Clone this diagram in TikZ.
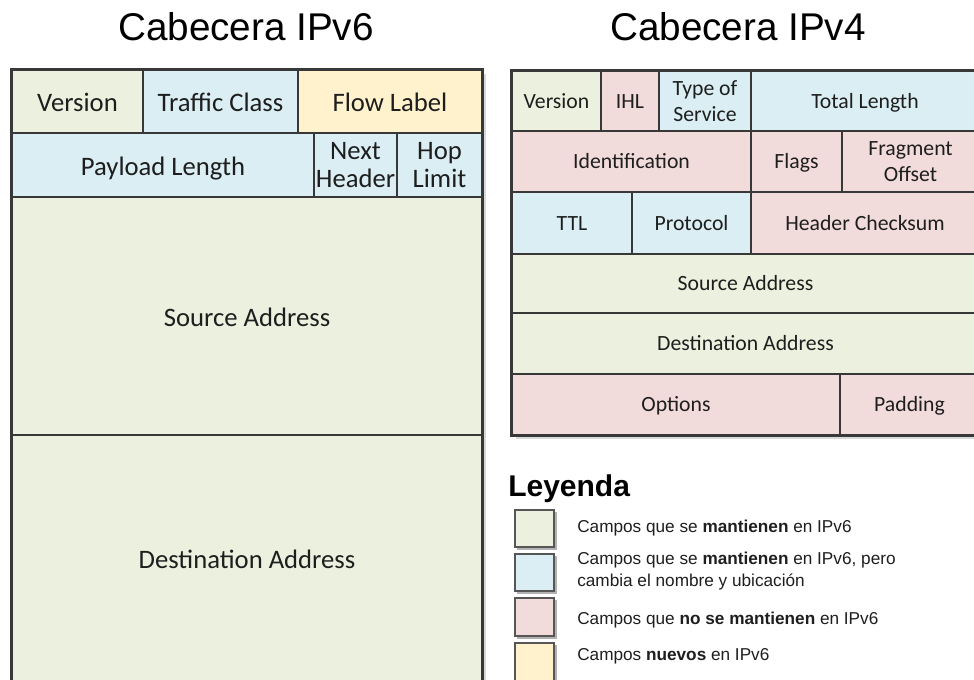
\documentclass[tikz,border=0pt]{standalone}
\usepackage{fontspec}
\setmainfont{Liberation Sans}
\newfontfamily\calib{Carlito}

\definecolor{keepg}{HTML}{EBF1DE}
\definecolor{renb}{HTML}{DAEEF3}
\definecolor{dropr}{HTML}{F2DCDB}
\definecolor{newy}{HTML}{FFF2CC}
\definecolor{linec}{HTML}{383838}
\definecolor{txtc}{HTML}{1E1E1E}

% one header field: name, x1, y1, x2, y2, fill, font style, label
\newcommand\fld[8]{%
  \node[fld, fill=#6, #7,
        minimum width={(#4-#2)*0.75pt},
        minimum height={(#5-#3)*0.75pt}]
        (#1) at ({(#2+#4)/2},{(#3+#5)/2}) {#8};}

\begin{document}
\begin{tikzpicture}[x=0.75pt, y=-0.75pt,
  fld/.style={draw=linec, line width=1.1pt, inner sep=0pt, align=center, text=txtc},
  vsix/.style={font=\calib\fontsize{20}{21}\selectfont},
  vfour/.style={font=\calib\fontsize{16.3}{20}\selectfont},
  % fixed line box for single-line labels, so all baselines sit alike
  one6/.style={vsix, text height=19pt, text depth=4pt},
  one4/.style={vfour, text height=13.5pt, text depth=3pt},
  title/.style={font=\fontsize{29}{32}\selectfont, anchor=base, inner sep=0pt},
  keybox/.style={draw=linec!85, line width=1.5pt, inner sep=0pt, minimum width=39*0.75pt},
  keytext/.style={font=\fontsize{12.9}{16.5}\selectfont, text=txtc, anchor=west, inner sep=0pt, align=left},
  shade/.style={fill=black!35}
]
\useasboundingbox (0,0) rectangle (974,679);
\clip (0,0) rectangle (974,679);

% titles
\node[title] (t6) at (246,40) {Cabecera IPv6};
\node[title] (t4) at (738,40) {Cabecera IPv4};

% soft shadows under both tables
\fill[black!15] (15.5,73.5) rectangle (485.5,690);
\fill[shade] (13.5,71.5) rectangle (484,690);
\fill[black!15] (515.5,74.5) rectangle (990,438.5);
\fill[shade] (513.5,72.5) rectangle (990,437);

% IPv6 header
\fld{v6ver}{12}{70}{143}{133}{keepg}{one6}{Version}
\fld{v6tc}{143}{70}{298}{133}{renb}{one6}{Traffic Class}
\fld{v6fl}{298}{70}{482}{133}{newy}{one6}{Flow Label}
\fld{v6pl}{12}{133}{314}{197}{renb}{one6}{Payload Length}
\fld{v6nh}{314}{133}{397}{197}{renb}{vsix}{Next\\Header}
\fld{v6hl}{397}{133}{482}{197}{renb}{vsix}{Hop\\Limit}
\fld{v6src}{12}{197}{482}{435}{keepg}{one6}{Source Address}
\fld{v6dst}{12}{435}{482}{681}{keepg}{one6}{Destination Address}
\draw[draw=linec, line width=1.6pt] (v6ver.north west) rectangle (v6dst.south east);

% IPv4 header
\fld{v4ver}{512}{71}{601}{131}{keepg}{one4}{Version}
\fld{v4ihl}{601}{71}{659}{131}{dropr}{one4}{IHL}
\fld{v4tos}{659}{71}{751}{131}{renb}{vfour}{Type of\\Service}
\fld{v4tl}{751}{71}{979}{131}{renb}{one4}{Total Length}
\fld{v4id}{512}{131}{751}{192}{dropr}{one4}{Identification}
\fld{v4fg}{751}{131}{842}{192}{dropr}{one4}{Flags}
\fld{v4fo}{842}{131}{979}{192}{dropr}{vfour}{Fragment\\Offset}
\fld{v4ttl}{512}{192}{632}{254}{renb}{one4}{TTL}
\fld{v4pr}{632}{192}{751}{254}{renb}{one4}{Protocol}
\fld{v4hc}{751}{192}{979}{254}{dropr}{one4}{Header Checksum}
\fld{v4src}{512}{254}{979}{313}{keepg}{one4}{Source Address}
\fld{v4dst}{512}{313}{979}{374}{keepg}{one4}{Destination Address}
\fld{v4opt}{512}{374}{840}{435}{dropr}{one4}{Options}
\fld{v4pad}{840}{374}{979}{435}{dropr}{one4}{Padding}
\draw[draw=linec, line width=1.6pt] (v4ver.north west) rectangle (v4pad.south east);

% legend
\node[font=\bfseries\fontsize{22.5}{26}\selectfont, anchor=base west, inner sep=0pt] (leg) at (508,496) {Leyenda};

\fill[black!30] (517,512) rectangle (557,550);
\fill[black!30] (517,556) rectangle (557,594);
\fill[black!30] (517,600) rectangle (557,639);
\fill[black!30] (517,645) rectangle (557,690);
\node[keybox, fill=keepg, minimum height=37*0.75pt] (k1) at (534.5,528.5) {};
\node[keybox, fill=renb, minimum height=37*0.75pt] (k2) at (534.5,572.5) {};
\node[keybox, fill=dropr, minimum height=38*0.75pt] (k3) at (534.5,617) {};
\node[keybox, fill=newy, minimum height=47*0.75pt] (k4) at (534.5,666.5) {};

\node[keytext] (d1) at (577,528) {Campos que se \textbf{mantienen} en IPv6};
\node[keytext] (d2) at (577,571) {Campos que se \textbf{mantienen} en IPv6, pero\\cambia el nombre y ubicación};
\node[keytext] (d3) at (577,620) {Campos que \textbf{no se mantienen} en IPv6};
\node[keytext] (d4) at (577,656) {Campos \textbf{nuevos} en IPv6};
\end{tikzpicture}
\end{document}
